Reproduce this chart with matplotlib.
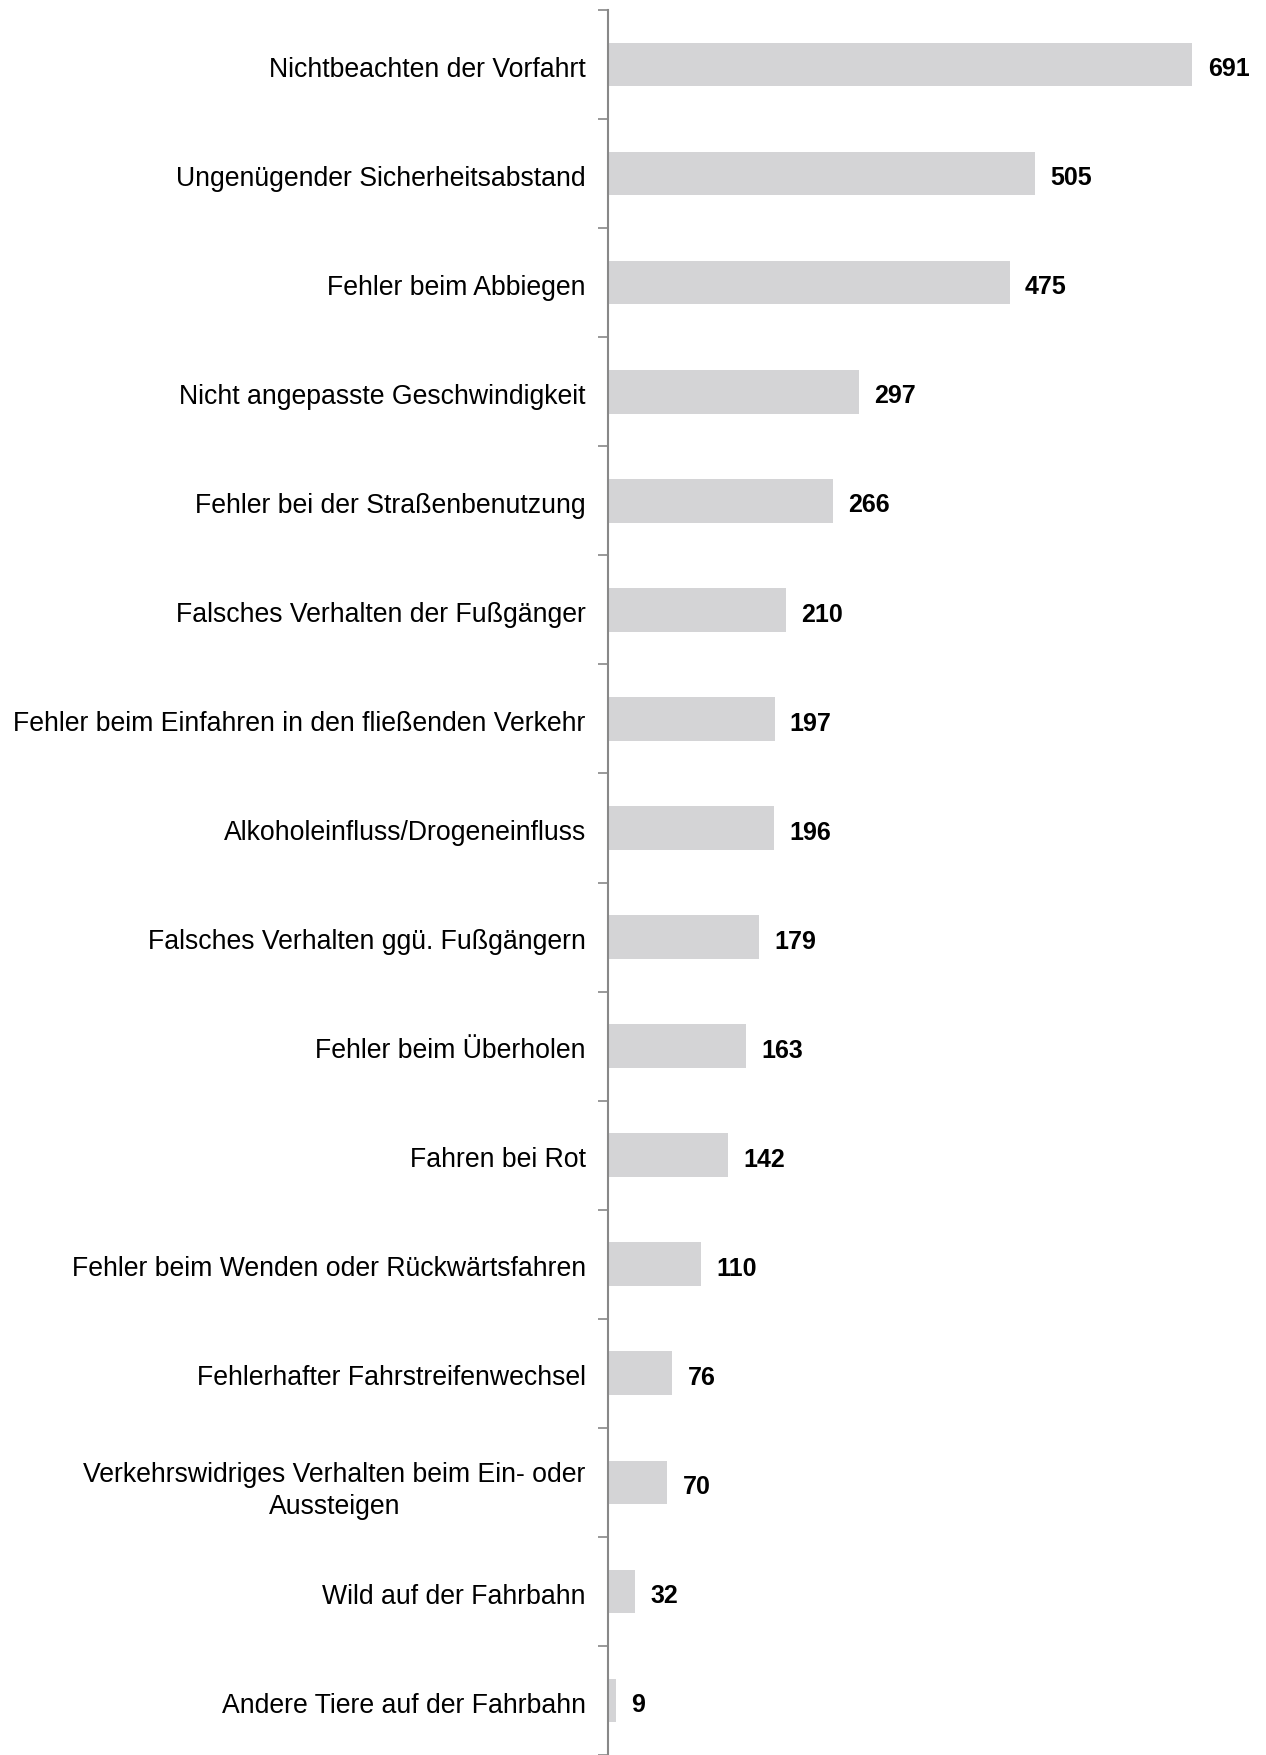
import numpy as np
import matplotlib
matplotlib.use('Agg')
import matplotlib.pyplot as plt

plt.rcParams['font.family'] = ['Liberation Sans', 'DejaVu Sans']

categories = [
    'Nichtbeachten der Vorfahrt',
    'Ungenügender Sicherheitsabstand',
    'Fehler beim Abbiegen',
    'Nicht angepasste Geschwindigkeit',
    'Fehler bei der Straßenbenutzung',
    'Falsches Verhalten der Fußgänger',
    'Fehler beim Einfahren in den fließenden Verkehr',
    'Alkoholeinfluss/Drogeneinfluss',
    'Falsches Verhalten ggü. Fußgängern',
    'Fehler beim Überholen',
    'Fahren bei Rot',
    'Fehler beim Wenden oder Rückwärtsfahren',
    'Fehlerhafter Fahrstreifenwechsel',
    'Verkehrswidriges Verhalten beim Ein- oder\nAussteigen',
    'Wild auf der Fahrbahn',
    'Andere Tiere auf der Fahrbahn',
]
values = [691, 505, 475, 297, 266, 210, 197, 196, 179, 163, 142, 110, 76, 70, 32, 9]

fig = plt.figure(figsize=(12.66, 17.55), dpi=100)
ax = fig.add_axes([608 / 1266, 0.0, 1 - 608 / 1266 - 0.02, 1 - 10 / 1755])

y = np.arange(len(categories))
ax.barh(y, values, height=0.4, color='#d4d4d6')
for yi, v in zip(y, values):
    ax.text(v + 18, yi + 0.02, str(v), va='center_baseline', ha='left', fontsize=18, fontweight='bold')

ax.set_ylim(len(categories) - 0.5, -0.5)
ax.set_xlim(0, 748)

ax.set_yticks(y + 0.02)
ax.set_yticklabels(categories, fontsize=19.2, multialignment='center',
                   va='center_baseline', linespacing=1.3)
ax.set_yticks(np.arange(-0.5, len(categories), 1), minor=True)
ax.tick_params(axis='y', which='major', length=0, pad=16)
ax.tick_params(axis='y', which='minor', length=7, width=1.2, color='#888888')

ax.set_xticks([])
for s in ['top', 'right', 'bottom']:
    ax.spines[s].set_visible(False)
ax.spines['left'].set_color('#888888')
ax.spines['left'].set_linewidth(1.5)

fig.savefig('out.png', dpi=100)
